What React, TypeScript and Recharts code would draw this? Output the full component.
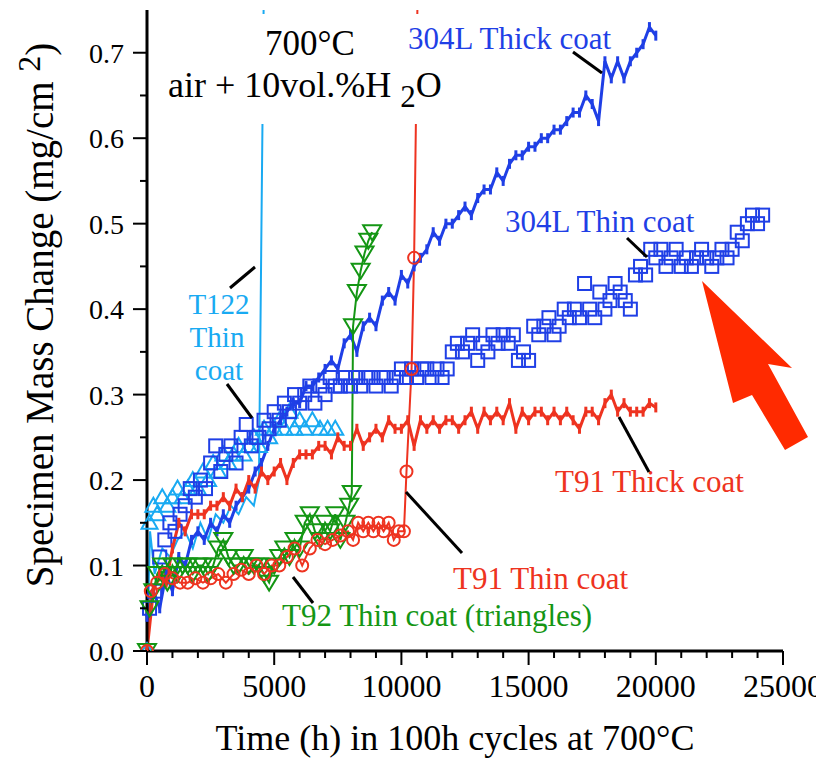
import React from 'react';
import { LineChart, Line, XAxis, YAxis } from 'recharts';

const BLUE = '#1f3fe6';
const LIGHT_BLUE = '#19aaf2';
const RED = '#ee3320';
const GREEN = '#149614';
const FONT = '"Liberation Serif", "Times New Roman", serif';

const xTicks = [0, 1000, 2000, 3000, 4000, 5000, 6000, 7000, 8000, 9000, 10000, 11000, 12000, 13000, 14000, 15000, 16000, 17000, 18000, 19000, 20000, 21000, 22000, 23000, 24000, 25000];
const yTicks = [0, 0.05, 0.1, 0.15, 0.2, 0.25, 0.3, 0.35, 0.4, 0.45, 0.5, 0.55, 0.6, 0.65, 0.7];

// thick coats, read every 250 h
const thickTime = [0, 250, 500, 750, 1000, 1250, 1500, 1750, 2000, 2250, 2500, 2750, 3000, 3250, 3500, 3750, 4000, 4250, 4500, 4750, 5000, 5250, 5500, 5750, 6000, 6250, 6500, 6750, 7000, 7250, 7500, 7750, 8000, 8250, 8500, 8750, 9000, 9250, 9500, 9750, 10000, 10250, 10500, 10750, 11000, 11250, 11500, 11750, 12000, 12250, 12500, 12750, 13000, 13250, 13500, 13750, 14000, 14250, 14500, 14750, 15000, 15250, 15500, 15750, 16000, 16250, 16500, 16750, 17000, 17250, 17500, 17750, 18000, 18250, 18500, 18750, 19000, 19250, 19500, 19750, 20000];
const thick304L = [
  0.04, 0.07, 0.05, 0.09, 0.07, 0.11, 0.10, 0.13, 0.14, 0.13,
  0.15, 0.14, 0.16, 0.15, 0.17, 0.18, 0.19, 0.21, 0.22, 0.24,
  0.26, 0.27, 0.28, 0.29, 0.29, 0.31, 0.31, 0.32, 0.33, 0.34,
  0.33, 0.36, 0.37, 0.35, 0.38, 0.39, 0.38, 0.41, 0.42, 0.41,
  0.44, 0.43, 0.45, 0.46, 0.47, 0.49, 0.48, 0.50, 0.50, 0.51,
  0.52, 0.51, 0.53, 0.54, 0.54, 0.56, 0.55, 0.57, 0.58, 0.58,
  0.59, 0.59, 0.60, 0.60, 0.61, 0.61, 0.62, 0.63, 0.63, 0.65,
  0.64, 0.62, 0.69, 0.67, 0.69, 0.67, 0.69, 0.70, 0.71, 0.73,
  0.72,
];
const thickT91 = [
  0.00, 0.07, 0.09, 0.08, 0.12, 0.15, 0.14, 0.16, 0.16, 0.16,
  0.17, 0.17, 0.18, 0.17, 0.19, 0.18, 0.20, 0.19, 0.21, 0.20,
  0.21, 0.22, 0.20, 0.22, 0.23, 0.23, 0.23, 0.24, 0.24, 0.23,
  0.25, 0.24, 0.24, 0.26, 0.24, 0.25, 0.26, 0.25, 0.27, 0.26,
  0.26, 0.27, 0.24, 0.27, 0.26, 0.27, 0.26, 0.27, 0.27, 0.26,
  0.27, 0.28, 0.26, 0.28, 0.27, 0.28, 0.27, 0.29, 0.26, 0.28,
  0.27, 0.28, 0.28, 0.27, 0.28, 0.27, 0.28, 0.27, 0.26, 0.28,
  0.28, 0.27, 0.29, 0.30, 0.28, 0.29, 0.28, 0.28, 0.28, 0.29,
  0.285,
];

const thin304LTime = [
  100, 300, 500, 700, 900, 1100, 1300, 1500, 1700, 1900, 2100, 2300, 2500, 2700, 2900, 3100, 3300, 3500, 3700, 3900, 4100, 4300,
  4400, 4600, 4800, 5000, 5200, 5400, 5600, 5800, 6000, 6200,
  6400, 6600, 6800, 7000, 7200, 7400, 7600, 7800, 8000, 8200,
  8400, 8600, 8800, 9000, 9200, 9400, 9600, 9800, 10000, 10200,
  10400, 10600, 10800, 11000, 11200, 11400, 11600, 11800, 12000, 12200,
  12400, 12600, 12800, 13000, 13200, 13400, 13600, 13800, 14000, 14200,
  14400, 14600, 14800, 15000, 15200, 15400, 15600, 15800, 16000, 16200,
  16400, 16600, 16800, 17000, 17200, 17400, 17600, 17800, 18000, 18200,
  18400, 18600, 18800, 19000, 19200, 19400, 19600, 19800, 20000, 20200,
  20400, 20600, 20800, 21000, 21200, 21400, 21600, 21800, 22000, 22200,
  22400, 22600, 22800, 23000, 23200, 23400, 23600, 23800, 24000, 24200,
];
const thin304LMass = [
  0.05, 0.07, 0.11, 0.13, 0.15, 0.14, 0.16, 0.17, 0.19, 0.18, 0.20, 0.19, 0.22, 0.24, 0.21, 0.23, 0.24, 0.22, 0.25, 0.265, 0.24, 0.25,
  0.25, 0.27, 0.26, 0.28, 0.27, 0.29, 0.28, 0.30, 0.29, 0.30,
  0.31, 0.29, 0.31, 0.30, 0.32, 0.31, 0.31, 0.32, 0.31, 0.32,
  0.31, 0.32, 0.32, 0.31, 0.32, 0.32, 0.31, 0.32, 0.33, 0.32,
  0.33, 0.32, 0.33, 0.33, 0.32, 0.33, 0.32, 0.33, 0.35, 0.36,
  0.35, 0.36, 0.37, 0.34, 0.36, 0.35, 0.37, 0.36, 0.37, 0.36,
  0.37, 0.34, 0.35, 0.34, 0.38, 0.37, 0.38, 0.39, 0.37, 0.38,
  0.40, 0.39, 0.40, 0.39, 0.43, 0.40, 0.39, 0.42, 0.40, 0.41,
  0.43, 0.42, 0.41, 0.40, 0.44, 0.45, 0.44, 0.47, 0.46, 0.47,
  0.45, 0.46, 0.47, 0.45, 0.46, 0.45, 0.46, 0.47, 0.46, 0.45,
  0.46, 0.47, 0.46, 0.47, 0.49, 0.48, 0.50, 0.51, 0.50, 0.51,
];

const t122Time = [0, 100, 250, 400, 600, 800, 1000, 1200, 1400, 1600, 1800, 2000, 2200, 2400, 2600, 2800, 3000, 3200, 3400, 3600, 3800, 4000, 4200, 4400, 4600, 4800, 5000, 5200, 5400, 5600, 5800, 6000, 6200, 6500, 6800, 7100, 7400];
const t122Mass = [0.0, 0.15, 0.17, 0.16, 0.18, 0.17, 0.18, 0.19, 0.18, 0.19, 0.20, 0.19, 0.21, 0.20, 0.22, 0.21, 0.23, 0.22, 0.23, 0.24, 0.23, 0.24, 0.25, 0.24, 0.26, 0.25, 0.26, 0.27, 0.26, 0.28, 0.26, 0.27, 0.26, 0.27, 0.26, 0.26, 0.26];

// second T122 sample, runs off the top near 4500 h
const t122LineTime = [0, 120, 300, 600, 900, 1200, 1500, 1800, 2100, 2400, 2700, 3000, 3300, 3600, 3900, 4200, 4400, 4600];
const t122LineMass = [0, 0.14, 0.09, 0.12, 0.11, 0.13, 0.14, 0.12, 0.15, 0.13, 0.16, 0.15, 0.17, 0.16, 0.18, 0.17, 0.20, 0.80];

const t92Time = [0, 100, 250, 400, 600, 800, 1000, 1200, 1400, 1600, 1800, 2000, 2200, 2400, 2600, 2800, 3000, 3200, 3400, 3600, 3800, 4000, 4200, 4400, 4600, 4800, 5000, 5200, 5400, 5600, 5800, 6000, 6200, 6400, 6600, 6800, 7000, 7200, 7400, 7600, 7800, 7950, 8050, 8100, 8250, 8400, 8550, 8700, 8850];
const t92Mass = [0, 0.05, 0.07, 0.09, 0.10, 0.08, 0.10, 0.09, 0.10, 0.10, 0.09, 0.10, 0.10, 0.09, 0.10, 0.12, 0.13, 0.11, 0.10, 0.10, 0.11, 0.10, 0.10, 0.10, 0.09, 0.08, 0.10, 0.11, 0.12, 0.11, 0.13, 0.12, 0.15, 0.16, 0.14, 0.13, 0.15, 0.14, 0.16, 0.13, 0.15, 0.17, 0.185, 0.38, 0.42, 0.445, 0.465, 0.48, 0.49];

const t91ThinTime = [0, 150, 400, 700, 1000, 1300, 1600, 1900, 2200, 2500, 2800, 3100, 3400, 3700, 4000, 4300, 4600, 4900, 5200, 5500, 5800, 6100, 6400, 6700, 7000, 7300, 7600, 7900, 8100, 8300, 8500, 8700, 8900, 9100, 9300, 9500, 9700, 9900, 10100, 10200, 10400, 10500, 10650];
const t91ThinMass = [0, 0.07, 0.08, 0.09, 0.085, 0.08, 0.08, 0.085, 0.08, 0.085, 0.09, 0.08, 0.09, 0.095, 0.09, 0.10, 0.09, 0.10, 0.10, 0.11, 0.12, 0.10, 0.12, 0.13, 0.125, 0.13, 0.135, 0.14, 0.13, 0.15, 0.14, 0.15, 0.14, 0.15, 0.14, 0.15, 0.13, 0.14, 0.14, 0.21, 0.33, 0.46, 0.80];

const zip = (ts: number[], vs: number[]) => ts.map((t, i) => ({ t, v: vs[i] }));

const off = (p: any) => p.cx == null || p.cy == null || p.payload.v > 0.75;

const squareDot = (p: any) => {
  if (off(p)) return <g key={p.index} />;
  return <rect key={p.index} x={p.cx - 6.5} y={p.cy - 6.5} width={13} height={13} fill="none" stroke={BLUE} strokeWidth={2} />;
};
const upTriDot = (p: any) => {
  if (off(p)) return <g key={p.index} />;
  const { cx, cy } = p;
  return <polygon key={p.index} points={`${cx},${cy - 8} ${cx + 8},${cy + 6} ${cx - 8},${cy + 6}`} fill="none" stroke={LIGHT_BLUE} strokeWidth={2} />;
};
const downTriDot = (p: any) => {
  if (off(p)) return <g key={p.index} />;
  const { cx, cy } = p;
  return <polygon key={p.index} points={`${cx - 9},${cy - 7} ${cx + 9},${cy - 7} ${cx},${cy + 8}`} fill="none" stroke={GREEN} strokeWidth={2} />;
};
const circleDot = (p: any) => {
  if (off(p)) return <g key={p.index} />;
  return <circle key={p.index} cx={p.cx} cy={p.cy} r={6} fill="none" stroke={RED} strokeWidth={2} />;
};
// tiny vertical dashes that give the thick-coat traces their hatched look
const hatchDot = (color: string) => (p: any) => {
  if (off(p)) return <g key={p.index} />;
  return <rect key={p.index} x={p.cx - 1.5} y={p.cy - 5} width={3} height={10} fill={color} />;
};

const XTick = (p: any) => {
  const { x, y, payload } = p;
  const major = payload.value % 5000 === 0;
  return (
    <g>
      <line x1={x} y1={y} x2={x} y2={y + (major ? 14 : 7)} stroke="#000" strokeWidth={2} />
      {major && (
        <text x={x} y={y + 46} textAnchor="middle" fontSize={32} fontFamily={FONT} fill="#000">
          {payload.value}
        </text>
      )}
    </g>
  );
};

const YTick = (p: any) => {
  const { x, y, payload } = p;
  const major = Math.round(payload.value * 100) % 10 === 0;
  return (
    <g>
      <line x1={x} y1={y} x2={x - (major ? 14 : 7)} y2={y} stroke="#000" strokeWidth={2} />
      {major && (
        <text x={x - 23} y={y + 10} textAnchor="end" fontSize={28} fontFamily={FONT} fill="#000">
          {payload.value.toFixed(1)}
        </text>
      )}
    </g>
  );
};

const Annotations = () => (
  <svg
    width={816}
    height={750}
    viewBox="8 8 816 750"
    style={{ position: 'absolute', left: 0, top: 0, pointerEvents: 'none' }}
    fontFamily={FONT}
  >
    <rect x={158} y={14} width={300} height={110} fill="#fff" />
    <text x={310} y={55} textAnchor="middle" fontSize={35} fill="#000">700°C</text>
    <text x={168} y={97} fontSize={36} fill="#000">
      air + 10vol.%H<tspan> </tspan>
      <tspan dy={10} fontSize={31}>2</tspan>
      <tspan dy={-10}>O</tspan>
    </text>

    <text x={408} y={49} fontSize={31} fill={BLUE}>304L Thick coat</text>
    <line x1={573} y1={52} x2={602} y2={73} stroke="#000" strokeWidth={3} />

    <text x={505} y={232} fontSize={31} fill={BLUE}>304L Thin coat</text>
    <line x1={627} y1={238} x2={647} y2={257} stroke="#000" strokeWidth={3} />

    <text x={219} y={314} textAnchor="middle" fontSize={29} fill={LIGHT_BLUE}>T122</text>
    <text x={217} y={347} textAnchor="middle" fontSize={29} fill={LIGHT_BLUE}>Thin</text>
    <text x={219} y={380} textAnchor="middle" fontSize={29} fill={LIGHT_BLUE}>coat</text>
    <line x1={230} y1={288} x2={255} y2={267} stroke="#000" strokeWidth={3} />
    <line x1={227} y1={384} x2={252} y2={418} stroke="#000" strokeWidth={3} />

    <text x={555} y={492} fontSize={31} fill={RED}>T91 Thick coat</text>
    <line x1={619} y1={417} x2={649} y2={472} stroke="#000" strokeWidth={3} />

    <text x={453} y={589} fontSize={31} fill={RED}>T91 Thin coat</text>
    <line x1={406} y1={492} x2={462} y2={553} stroke="#000" strokeWidth={3} />

    <text x={282} y={626} fontSize={31} fill={GREEN}>T92 Thin coat (triangles)</text>
    <line x1={293} y1={577} x2={313} y2={603} stroke="#000" strokeWidth={3} />

    <polygon
      points="702,281 792,368 768,364 808,437 785,450 752,395 733,403"
      fill="#ff2a00"
    />

    <text x={455} y={750} textAnchor="middle" fontSize={36} fill="#000">
      Time (h) in 100h cycles at 700°C
    </text>
    <text transform="translate(53, 315) rotate(-90)" textAnchor="middle" fontSize={39} fill="#000">
      Specimen Mass Change (mg/cm<tspan> </tspan>
      <tspan dy={-13} fontSize={32}>2</tspan>
      <tspan dy={13}>)</tspan>
    </text>
  </svg>
);

export default function App() {
  return (
    <div style={{ position: 'relative', width: 816, height: 750 }}>
      <LineChart width={816} height={750} margin={{ top: 2, right: 41, bottom: 0, left: 0 }}>
        <XAxis
          dataKey="t"
          type="number"
          domain={[0, 25000]}
          ticks={xTicks}
          interval={0}
          height={107}
          tickSize={0}
          tickMargin={0}
          tickLine={false}
          tick={XTick}
          axisLine={{ stroke: '#000', strokeWidth: 3 }}
        />
        <XAxis xAxisId="top" orientation="top" dataKey="t" type="number" domain={[0, 25000]} height={0} tick={false} tickLine={false} axisLine={{ stroke: '#000', strokeWidth: 2.5 }} />
        <YAxis
          type="number"
          domain={[0, 0.75]}
          allowDataOverflow
          ticks={yTicks}
          interval={0}
          width={139}
          tickSize={0}
          tickMargin={0}
          tickLine={false}
          tick={YTick}
          axisLine={{ stroke: '#000', strokeWidth: 3 }}
        />
        <YAxis yAxisId="right" orientation="right" type="number" domain={[0, 0.75]} width={0} tick={false} tickLine={false} axisLine={{ stroke: '#000', strokeWidth: 2.5 }} />

        <Line data={zip(t122LineTime, t122LineMass)} dataKey="v" stroke={LIGHT_BLUE} strokeWidth={2} dot={false} isAnimationActive={false} />
        <Line data={zip(t122Time, t122Mass)} dataKey="v" stroke="none" dot={upTriDot} isAnimationActive={false} />
        <Line data={zip(thin304LTime, thin304LMass)} dataKey="v" stroke="none" dot={squareDot} isAnimationActive={false} />
        <Line data={zip(thickTime, thick304L)} dataKey="v" stroke={BLUE} strokeWidth={3} dot={hatchDot(BLUE)} isAnimationActive={false} />
        <Line data={zip(thickTime, thickT91)} dataKey="v" stroke={RED} strokeWidth={3} dot={hatchDot(RED)} isAnimationActive={false} />
        <Line data={zip(t92Time, t92Mass)} dataKey="v" stroke={GREEN} strokeWidth={2} dot={downTriDot} isAnimationActive={false} />
        <Line data={zip(t91ThinTime, t91ThinMass)} dataKey="v" stroke={RED} strokeWidth={2} dot={circleDot} isAnimationActive={false} />
      </LineChart>
      <Annotations />
    </div>
  );
}
